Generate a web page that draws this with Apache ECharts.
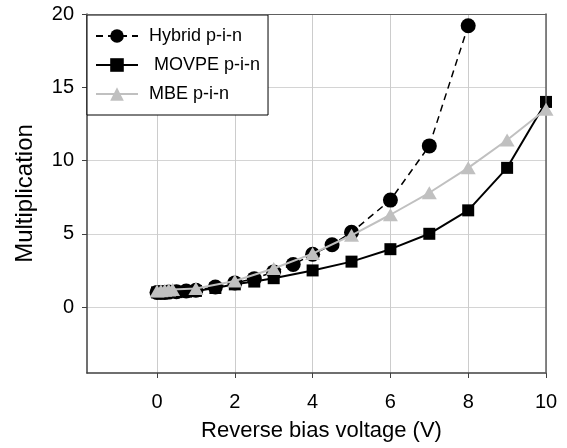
<!DOCTYPE html>
<html>
<head>
<meta charset="utf-8">
<script src="https://cdn.jsdelivr.net/npm/echarts@6/dist/echarts.min.js"></script>
<style>html,body{margin:0;padding:0;background:#fff}#c{width:567px;height:448px}</style>
</head>
<body>
<div id="c"></div>
<script>
// Data
var seriesNames = ['Hybrid p-i-n', ' MOVPE p-i-n', 'MBE p-i-n'];
var hybridV = [0, 0.1, 0.2, 0.3, 0.5, 0.75, 1.0, 1.5, 2.0, 2.5, 3.0, 3.5, 4.0, 4.5, 5, 6, 7, 8];
var hybridM = [1.0, 1.0, 1.0, 1.02, 1.05, 1.1, 1.15, 1.37, 1.65, 1.94, 2.4, 2.9, 3.6, 4.25, 5.1, 7.3, 11.0, 19.2];
var movpeV = [0, 0.25, 0.5, 0.75, 1, 1.5, 2, 2.5, 3, 4, 5, 6, 7, 8, 9, 10];
var movpeM = [1.0, 1.0, 1.02, 1.05, 1.1, 1.3, 1.55, 1.74, 1.97, 2.5, 3.1, 3.95, 5.0, 6.6, 9.5, 14.0];
var mbeV = [0, 0.1, 0.2, 0.3, 0.4, 1, 2, 3, 4, 5, 6, 7, 8, 9, 10];
var mbeM = [1.1, 1.12, 1.15, 1.17, 1.2, 1.26, 1.78, 2.63, 3.65, 4.9, 6.3, 7.8, 9.5, 11.4, 13.5];
var xTicks = [0, 2, 4, 6, 8, 10];
var yTicks = [0, 5, 10, 15, 20];
var xMin = -1.8, xMax = 10, yMin = -4.5, yMax = 20;

function pairs(xs, ys) { return xs.map(function (x, i) { return [x, ys[i]]; }); }

var FONT = 'Liberation Sans, Arial, sans-serif';
var chart = echarts.init(document.getElementById('c'), null, { renderer: 'canvas' });
chart.setOption({
  animation: false,
  backgroundColor: '#fff',
  textStyle: { fontFamily: FONT },
  grid: { left: 87, right: 21, top: 14, bottom: 75, containLabel: false },
  legend: {
    orient: 'vertical',
    left: 87, top: 15,
    padding: [12, 8, 12, 8],
    itemWidth: 42, itemHeight: 17, itemGap: 11,
    backgroundColor: '#fff',
    borderColor: '#000', borderWidth: 1, borderRadius: 0,
    textStyle: { fontFamily: FONT, fontSize: 18, color: '#000', lineHeight: 18, padding: [0, 0, 0, 6] },
    data: seriesNames
  },
  xAxis: [{
    type: 'value', position: 'bottom', min: xMin, max: xMax,
    name: 'Reverse bias voltage (V)', nameLocation: 'middle', nameGap: 47,
    nameTextStyle: { fontFamily: FONT, fontSize: 22, color: '#000', padding: [0, 0, 0, 10] },
    axisLine: { show: true, onZero: false, lineStyle: { color: '#404040', width: 1.5 } },
    axisTick: { show: true, inside: false, length: 5, customValues: xTicks, lineStyle: { color: '#404040', width: 1 } },
    axisLabel: { customValues: xTicks, margin: 19, fontFamily: FONT, fontSize: 20, color: '#000' },
    splitLine: { show: true, lineStyle: { color: '#cccccc', width: 1 } }
  }, {
    type: 'value', position: 'top', min: xMin, max: xMax, z: 5,
    axisLine: { show: true, onZero: false, lineStyle: { color: '#606060', width: 1 } },
    axisTick: { show: false }, axisLabel: { show: false }, splitLine: { show: false }
  }],
  yAxis: [{
    type: 'value', position: 'left', min: yMin, max: yMax,
    name: 'Multiplication', nameLocation: 'middle', nameGap: 50, nameRotate: 90,
    nameTextStyle: { fontFamily: FONT, fontSize: 24, color: '#000' },
    axisLine: { show: true, onZero: false, lineStyle: { color: '#404040', width: 1.5 } },
    axisTick: { show: true, inside: false, length: 5, customValues: yTicks, lineStyle: { color: '#404040', width: 1 } },
    axisLabel: { customValues: yTicks, margin: 13, fontFamily: FONT, fontSize: 20, color: '#000' },
    splitLine: { show: true, lineStyle: { color: '#d4d4d4', width: 1 } }
  }, {
    type: 'value', position: 'right', min: yMin, max: yMax, z: 5,
    axisLine: { show: true, onZero: false, lineStyle: { color: '#606060', width: 1.5 } },
    axisTick: { show: false }, axisLabel: { show: false }, splitLine: { show: false }
  }],
  series: [{
    name: seriesNames[0], type: 'line', xAxisIndex: 0, yAxisIndex: 0,
    data: pairs(hybridV, hybridM),
    symbol: 'circle', symbolSize: 15,
    itemStyle: { color: '#000' },
    lineStyle: { color: '#000', width: 1.5, type: [7, 5] },
    z: 3
  }, {
    name: seriesNames[1], type: 'line', xAxisIndex: 0, yAxisIndex: 0,
    data: pairs(movpeV, movpeM),
    symbol: 'rect', symbolSize: 12,
    itemStyle: { color: '#000' },
    lineStyle: { color: '#000', width: 2 },
    z: 4
  }, {
    name: seriesNames[2], type: 'line', xAxisIndex: 0, yAxisIndex: 0,
    data: pairs(mbeV, mbeM),
    symbol: 'triangle', symbolSize: [15, 13],
    itemStyle: { color: '#c0c0c0' },
    lineStyle: { color: '#c0c0c0', width: 2 },
    z: 5
  }]
});
</script>
</body>
</html>
